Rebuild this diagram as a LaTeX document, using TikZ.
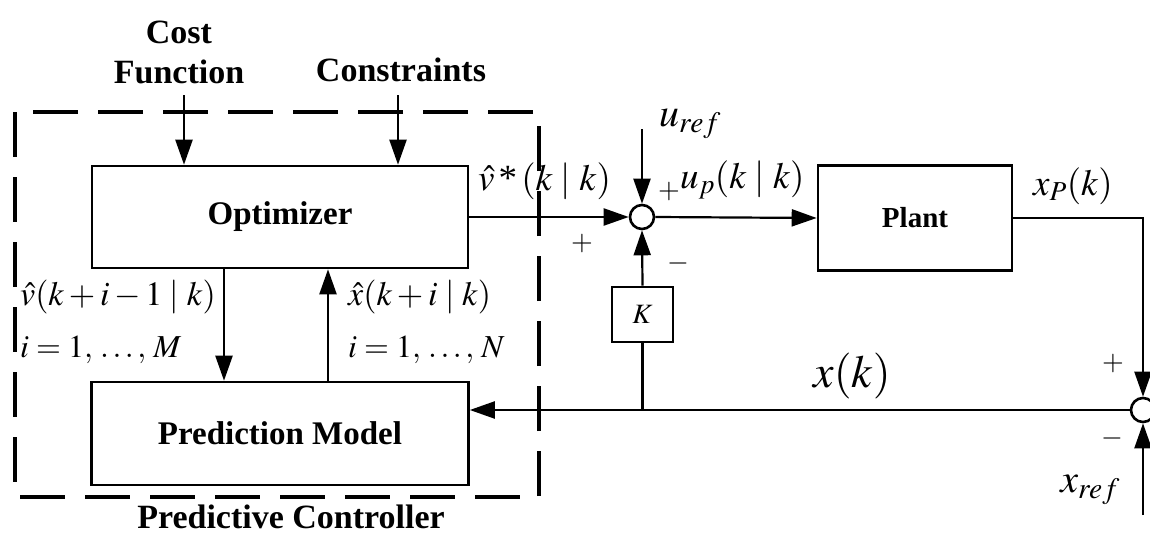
\documentclass[tikz,border=0pt]{standalone}
\usepackage{mathptmx}
\usepackage{fontspec}
\setmainfont{Liberation Serif}
\usepackage{tikz}
\usetikzlibrary{positioning,arrows.meta,calc}

\begin{document}
\begin{tikzpicture}[
    x=1pt,y=-1pt,>={Triangle[length=25pt,width=17pt]},
    block/.style={draw,line width=2.6pt,inner sep=0pt,
      font=\fontsize{33}{38}\selectfont\bfseries},
    title/.style={align=center,font=\fontsize{34}{40}\selectfont\bfseries},
    mlabel/.style={inner sep=0pt,font=\fontsize{34}{38}\selectfont},
    biglabel/.style={inner sep=0pt,font=\fontsize{40}{44}\selectfont},
    sign/.style={inner sep=0pt,font=\fontsize{28}{30}\selectfont},
    sumnode/.style={circle,draw,line width=2.6pt,minimum size=24pt,inner sep=0pt},
    flow/.style={->,line width=2.2pt},
    wire/.style={line width=2.2pt},
    ctrlbox/.style={line width=4pt,dash pattern=on 45pt off 20pt}
]
\useasboundingbox (0,0) rectangle (1150,535);

% controller frame
\draw[ctrlbox] (15,112) rectangle (539,497);
\node[title] (ctrl) at (291,517) {Predictive Controller};

% blocks
\node[block,minimum width=376pt,minimum height=102pt] (opt) at (280,217) {Optimizer};
\node[block,minimum width=377pt,minimum height=103pt] (pm) at (280,433.5) {Prediction Model};
\node[block,minimum width=194pt,minimum height=105pt,
  font=\fontsize{29}{34}\selectfont\bfseries] (plant) at (915,218) {Plant};
\node[block,minimum width=61pt,minimum height=55pt,
  font=\fontsize{28}{30}\selectfont\mdseries] (kbox) at (642.5,314.5) {$K$};
\node[sumnode] (sum1) at (642,217) {};
\node[sumnode] (sum2) at (1143,410) {};

% inputs on top
\node[title] (cost) at (179,52) {Cost\\Function};
\node[title] (cons) at (401,70) {Constraints};
\coordinate (costin) at (184,95);
\coordinate (consin) at (398,95);
\draw[flow] (costin) -- (costin |- opt.north);
\draw[flow] (consin) -- (consin |- opt.north);

% inner loop of the controller
\coordinate (vdown) at (224,268);
\coordinate (xup) at (328,382);
\draw[flow] (vdown) -- (vdown |- pm.north);
\draw[flow] (xup) -- (xup |- opt.south);
\node[mlabel,anchor=west] (vlab) at (20,297) {$\hat{v}(k+i-1\;|\;k)$};
\node[mlabel,anchor=west,font=\fontsize{32}{36}\selectfont] (mlab) at (20,350) {$i=1,\,\ldots,\,M$};
\node[mlabel,anchor=west] (xlab) at (348,297) {$\hat{x}(k+i\;|\;k)$};
\node[mlabel,anchor=west,font=\fontsize{32}{36}\selectfont] (nlab) at (348,350) {$i=1,\,\ldots,\,N$};

% forward path
\coordinate (urefin) at (642,129);
\draw[flow] (opt.east) -- (sum1.west);
\draw[flow] (urefin) -- (sum1.north);
\draw[flow] (sum1.east) -- (plant.west);
\draw[flow] (plant.east) -| (sum2.north);
\node[mlabel,anchor=west,font=\fontsize{37}{40}\selectfont] (vstar) at (478,181)
  {$\hat{v}\,\mbox{*}\,(k\;|\;k)$};
\node[biglabel,anchor=west] (uref) at (659,124) {$u_{ref}$};
\node[mlabel,anchor=west,font=\fontsize{37}{40}\selectfont] (up) at (680,180)
  {$u_{p}(k\;|\;k)$};
\node[biglabel,anchor=west,font=\fontsize{37}{40}\selectfont] (xp) at (1033,186) {$x_{P}(k)$};
\node[sign] (p1) at (582,244) {$+$};
\node[sign] (p2) at (669,192) {$+$};
\node[sign] (m1) at (678,263) {$-$};

% feedback
\coordinate (xrefin) at (1143,515);
\coordinate (kbr) at (kbox |- sum2);
\draw[flow] (xrefin) -- (sum2.south);
\draw[flow] (sum2.west) -- (sum2.west -| pm.east);
\draw[wire] (kbr) -- (kbox.south);
\draw[flow] (kbox.north) -- (sum1.south);
\node[biglabel,anchor=west,font=\fontsize{46}{50}\selectfont] (xk) at (813,376) {$x(k)$};
\node[sign] (p3) at (1113,364) {$+$};
\node[sign] (m2) at (1112,438) {$-$};
\node[biglabel,anchor=east] (xref) at (1120,490) {$x_{ref}$};
\end{tikzpicture}
\end{document}
